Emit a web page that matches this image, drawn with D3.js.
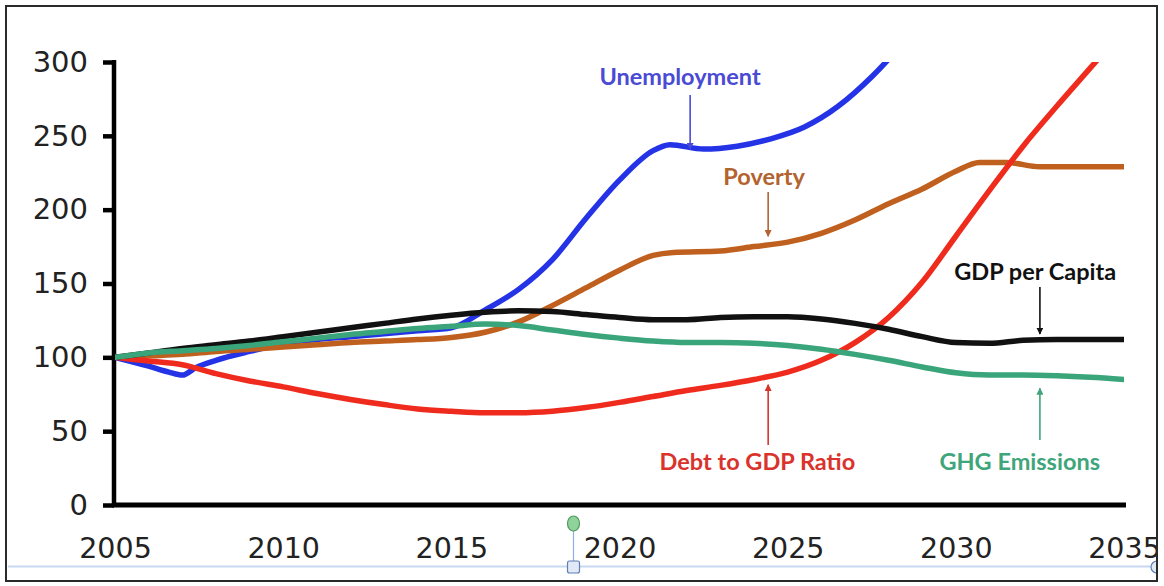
<!DOCTYPE html>
<html>
<head>
<meta charset="utf-8">
<script src="https://cdn.jsdelivr.net/npm/d3@7"></script>
<style>
  html, body { margin: 0; padding: 0; background: #fff; }
  svg { display: block; }
</style>
</head>
<body>
<svg id="chart" width="1164" height="586"></svg>
<script>
// Index values (2005 = 100), [year, value]
const unemployment = [[2005,100],[2006,94],[2006.6,90],[2007,88],[2007.4,93],[2008,98],[2009,104],[2010,109],[2011,112],[2012,114],[2013,116],[2014,118],[2015,120],[2016,132],[2017,146],[2018,166],[2019,194],[2020,220],[2021,240],[2021.5,244],[2022.5,241],[2023.5,243],[2024.5,248],[2025.5,256],[2026.5,270],[2027.5,290],[2028.5,315],[2029.5,345]];
const poverty = [[2005,100],[2006,101],[2007,102],[2008,104],[2009,105.5],[2010,107],[2011,108.5],[2012,110],[2013,111],[2014,112],[2015,113.5],[2016,117],[2017,124],[2018,135],[2019,147],[2020,159],[2021,169],[2021.6,171],[2023,172],[2024,175],[2025,178],[2026,184],[2027,193],[2028,204],[2029,214],[2030,226],[2030.7,232],[2031.5,232],[2032.5,229],[2035,229]];
const gdpPerCapita = [[2005,100],[2006,103],[2007,106],[2008,108.5],[2009,111],[2010,114],[2011,117],[2012,120],[2013,123],[2014,126],[2015,128.5],[2016,130.5],[2017,131.5],[2018,131],[2019,129],[2020,127],[2021,125.5],[2022,125.5],[2023,127],[2024,127.5],[2025,127.5],[2026,126],[2027,123],[2028,119],[2029,114],[2030,110],[2031,109.5],[2032,111.5],[2033,112],[2035,112]];
const ghgEmissions = [[2005,100],[2006,103],[2007,104.5],[2008,106],[2009,108],[2010,110.5],[2011,113],[2012,115.5],[2013,117.5],[2014,119.5],[2015,121],[2016,122.5],[2017,121.5],[2018,118.5],[2019,115.5],[2020,113],[2021,111],[2022,110],[2023,110],[2024,109.5],[2025,108],[2026,105.5],[2027,102],[2028,98],[2029,93.5],[2030,89.5],[2031,88],[2032,88],[2033,87.5],[2034,86.5],[2035,85]];
const debtToGdp = [[2005,100],[2006,97.5],[2007,95],[2008,89],[2009,84],[2010,80],[2011,75.5],[2012,71.5],[2013,68],[2014,65],[2015,63.5],[2016,62.5],[2017,62.5],[2018,63.5],[2019,66],[2020,69.5],[2021,73.5],[2022,77.5],[2023,81],[2024,85],[2025,90],[2026,98],[2027,110],[2028,127],[2029,151],[2030,182],[2031,213],[2032,243],[2033,270],[2034,296],[2035,322]];

const xTicks = [2005, 2010, 2015, 2020, 2025, 2030, 2035];
const yTicks = [0, 50, 100, 150, 200, 250, 300];

// Series styling, in drawing order
const series = [
  { name: "Unemployment",      data: unemployment, color: "#2433e6" },
  { name: "Poverty",           data: poverty,      color: "#c0601e" },
  { name: "Debt to GDP Ratio", data: debtToGdp,    color: "#ef2b1d" },
  { name: "GDP per Capita",    data: gdpPerCapita, color: "#111111" },
  { name: "GHG Emissions",     data: ghgEmissions, color: "#3aa57a" }
];

// Callout labels: text anchor at (year, value), arrow from value a to value b at year ax
const callouts = [
  { text: "Unemployment",      color: "#4a4ad4", x: 2021.8, y: 284.4, ax: 2022.1, a: 277.6, b: 241.0 },
  { text: "Poverty",           color: "#b3632f", x: 2024.3, y: 216.7, ax: 2024.42, a: 212.0, b: 182.0 },
  { text: "GDP per Capita",    color: "#111111", x: 2032.36, y: 152.4, ax: 2032.5, a: 147.6, b: 115.8 },
  { text: "Debt to GDP Ratio", color: "#d9332c", x: 2024.1, y: 23.7, ax: 2024.42, a: 40.6, b: 81.5 },
  { text: "GHG Emissions",     color: "#3fa57b", x: 2031.9, y: 23.7, ax: 2032.5, a: 44.0, b: 79.0 }
];

const svg = d3.select("#chart");
const W = 1164, H = 586;

const x = d3.scaleLinear().domain([2005, 2035]).range([115, 1124]);
const y = d3.scaleLinear().domain([0, 300]).range([505, 62]);

// Everything is clipped to the frame
const defs = svg.append("defs");
defs.append("clipPath").attr("id", "frame")
  .append("rect").attr("x", 6).attr("y", 6).attr("width", 1151).attr("height", 575);
defs.append("clipPath").attr("id", "plot")
  .append("rect").attr("x", x(2005)).attr("y", y(300)).attr("width", x(2035) - x(2005)).attr("height", y(0) - y(300));

const root = svg.append("g").attr("clip-path", "url(#frame)");
root.append("rect").attr("x", 0).attr("y", 0).attr("width", W).attr("height", H).attr("fill", "#fff");

// Arrowhead markers, one per callout colour
callouts.forEach((c, i) => {
  defs.append("marker")
    .attr("id", "arrow" + i)
    .attr("viewBox", "0 0 10 10")
    .attr("refX", 9).attr("refY", 5)
    .attr("markerWidth", 7).attr("markerHeight", 7)
    .attr("markerUnits", "userSpaceOnUse")
    .attr("orient", "auto")
    .append("path").attr("d", "M0,0 L10,5 L0,10 Z").attr("fill", c.color);
});

// Selection guides along the bottom
root.append("line")
  .attr("x1", 8).attr("x2", 1160).attr("y1", 566.5).attr("y2", 566.5)
  .attr("stroke", "#c9d8f2").attr("stroke-width", 2);
root.append("line")
  .attr("x1", 573.5).attr("x2", 573.5).attr("y1", 530).attr("y2", 562)
  .attr("stroke", "#8fb0e6").attr("stroke-width", 1.2);
root.append("ellipse")
  .attr("cx", 573.5).attr("cy", 523.5).attr("rx", 6).attr("ry", 7.5)
  .attr("fill", "#8fd39b").attr("stroke", "#4f9a5c").attr("stroke-width", 1.2);
root.append("rect")
  .attr("x", 567.5).attr("y", 561).attr("width", 12).attr("height", 12).attr("rx", 2)
  .attr("fill", "#e2e9f6").attr("stroke", "#5f7fb5").attr("stroke-width", 1.2);
root.append("circle")
  .attr("cx", 1157).attr("cy", 567).attr("r", 6)
  .attr("fill", "#e2e9f6").attr("stroke", "#5f7fb5").attr("stroke-width", 1.2);

// Y axis
const yAxis = root.append("g")
  .attr("transform", `translate(${x(2005) - 1},0)`)
  .call(d3.axisLeft(y).tickValues(yTicks).tickSize(11).tickSizeOuter(0).tickPadding(15));
yAxis.select(".domain").attr("stroke", "#000").attr("stroke-width", 4.5)
  .attr("d", `M0,${y(300) - 2}V${y(0) + 2}`);
yAxis.selectAll(".tick line").attr("stroke", "#000").attr("stroke-width", 4.5);
yAxis.selectAll("text")
  .attr("fill", "#222").style("font-family", "'DejaVu Sans', Verdana, sans-serif").style("font-size", "29px");

// X axis
const xAxis = root.append("g")
  .attr("transform", `translate(0,${y(0)})`)
  .call(d3.axisBottom(x).tickValues(xTicks).tickFormat(d3.format("d")).tickSize(0).tickSizeOuter(0).tickPadding(33));
xAxis.select(".domain").attr("stroke", "#000").attr("stroke-width", 5)
  .attr("d", `M${x(2005) - 3},0H${x(2035) + 2}`);
xAxis.selectAll("text")
  .attr("fill", "#222").style("font-family", "'DejaVu Sans', Verdana, sans-serif").style("font-size", "28.5px");

// Series lines
const line = d3.line()
  .x(d => x(d[0]))
  .y(d => y(d[1]))
  .curve(d3.curveMonotoneX);

const lines = root.append("g").attr("clip-path", "url(#plot)");
lines.selectAll("path.series")
  .data(series)
  .join("path")
  .attr("class", "series")
  .attr("d", d => line(d.data))
  .attr("fill", "none")
  .attr("stroke", d => d.color)
  .attr("stroke-width", 5.5)
  .attr("stroke-linejoin", "round")
  .attr("stroke-linecap", "round");

// Callout labels with arrows
const notes = root.append("g");
callouts.forEach((c, i) => {
  notes.append("line")
    .attr("x1", x(c.ax)).attr("x2", x(c.ax))
    .attr("y1", y(c.a)).attr("y2", y(c.b))
    .attr("stroke", c.color).attr("stroke-width", 1.6)
    .attr("marker-end", `url(#arrow${i})`);
  notes.append("text")
    .attr("x", x(c.x)).attr("y", y(c.y))
    .attr("text-anchor", "middle")
    .attr("fill", c.color)
    .style("font-family", "Lato, 'Open Sans', sans-serif")
    .style("font-weight", "700")
    .style("font-size", "23.5px")
    .text(c.text);
});

// Frame
svg.append("rect")
  .attr("x", 6).attr("y", 6).attr("width", 1151).attr("height", 575)
  .attr("fill", "none").attr("stroke", "#2a2a2a").attr("stroke-width", 2);
</script>
</body>
</html>
